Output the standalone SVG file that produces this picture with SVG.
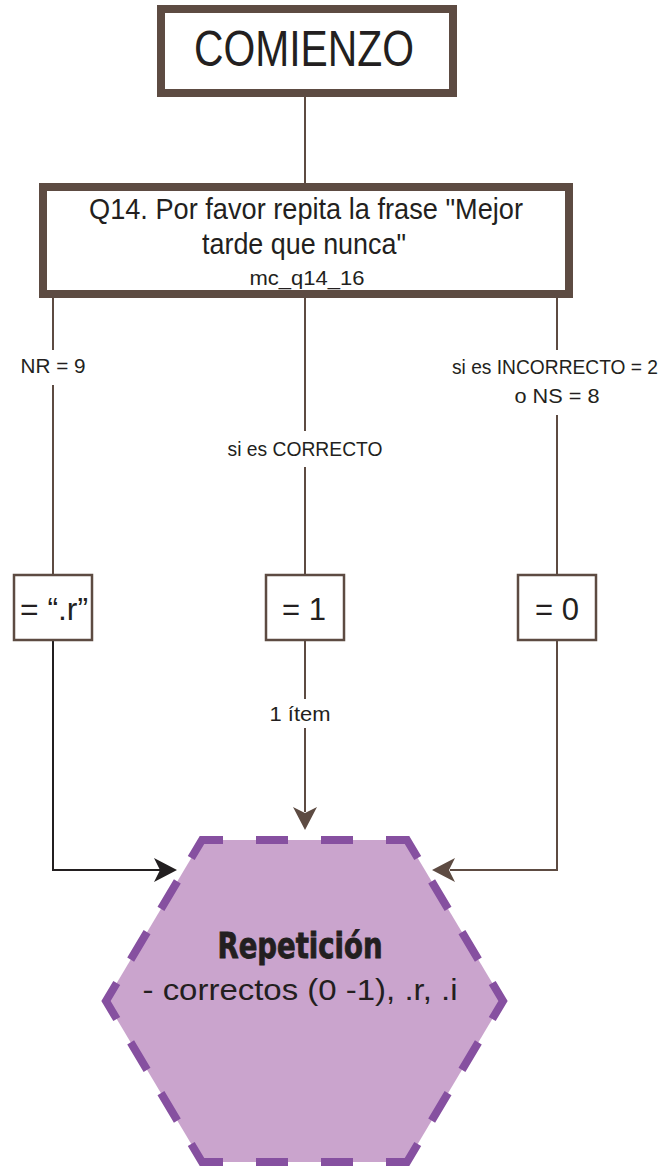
<svg xmlns="http://www.w3.org/2000/svg" width="666" height="1168" viewBox="0 0 666 1168">
<style>
.t{font-family:"Liberation Sans",Arial,sans-serif;fill:#231f20;text-anchor:middle}
.lb{font-size:21px}
.big{fill:#fff;stroke:#5d4b42;stroke-width:8}
.sm{fill:#fff;stroke:#5d4b42;stroke-width:2.5}
.c{fill:none;stroke:#5d4b42;stroke-width:2}
.ck{fill:none;stroke:#231f20;stroke-width:2}
</style>
<defs>
<path id="ah" d="M0,0 L-23,-12 L-17,0 L-23,12 Z"/>
</defs>
<g id="connectors">
<line class="c" x1="305" y1="97" x2="305" y2="183"/>
<line class="c" x1="53" y1="298" x2="53" y2="350"/>
<line class="c" x1="53" y1="385" x2="53" y2="574"/>
<line class="c" x1="305" y1="298" x2="305" y2="431"/>
<line class="c" x1="305" y1="467" x2="305" y2="574"/>
<line class="c" x1="557" y1="298" x2="557" y2="350"/>
<line class="c" x1="557" y1="415" x2="557" y2="574"/>
<polyline class="ck" points="53,641 53,870 160,870"/>
<use href="#ah" transform="translate(177,870)" fill="#231f20"/>
<line class="c" x1="305" y1="641" x2="305" y2="699"/>
<line class="c" x1="305" y1="728" x2="305" y2="812"/>
<use href="#ah" transform="translate(305,830) rotate(90)" fill="#5d4b42"/>
<polyline class="c" points="557,641 557,870 450,870"/>
<use href="#ah" transform="translate(432,870) rotate(180)" fill="#5d4b42"/>
<text class="t lb" x="53" y="373" textLength="65" lengthAdjust="spacingAndGlyphs">NR = 9</text>
<text class="t lb" x="305" y="456" textLength="155" lengthAdjust="spacingAndGlyphs">si es CORRECTO</text>
<text class="t" x="555" y="374" font-size="20" textLength="206" lengthAdjust="spacingAndGlyphs">si es INCORRECTO = 2</text>
<text class="t lb" x="557" y="403" textLength="85" lengthAdjust="spacingAndGlyphs">o NS = 8</text>
<text class="t lb" x="300" y="721" textLength="61" lengthAdjust="spacingAndGlyphs">1 ítem</text>
</g>
<g id="start">
<rect class="big" x="161" y="9" width="292" height="84"/>
<text class="t" x="304" y="66" font-size="50" textLength="220" lengthAdjust="spacingAndGlyphs">COMIENZO</text>
</g>
<g id="q14">
<rect class="big" x="43" y="187" width="526" height="107"/>
<text class="t" x="306" y="219" font-size="29" textLength="434" lengthAdjust="spacingAndGlyphs">Q14. Por favor repita la frase "Mejor</text>
<text class="t" x="304" y="254" font-size="29" textLength="204" lengthAdjust="spacingAndGlyphs">tarde que nunca"</text>
<text class="t" x="307" y="285" font-size="21" textLength="115" lengthAdjust="spacingAndGlyphs">mc_q14_16</text>
</g>
<g id="r">
<rect class="sm" x="14" y="575" width="78" height="65"/>
<text class="t" x="54" y="620" font-size="31" textLength="68" lengthAdjust="spacingAndGlyphs">= “.r”</text>
</g>
<g id="one">
<rect class="sm" x="266" y="575" width="78" height="65"/>
<text class="t" x="304" y="620" font-size="31">= 1</text>
</g>
<g id="zero">
<rect class="sm" x="518" y="575" width="78" height="65"/>
<text class="t" x="557" y="620" font-size="31">= 0</text>
</g>
<g id="result">
<path d="M304.5,840 L407,840 L503,1001 L407,1162 L202,1162 L106,1001 L202,840 Z" fill="#caa4cd" stroke="#8650a0" stroke-width="8" stroke-linejoin="miter" stroke-dasharray="0 16.5 32 33 42 27.15 32 27.15 32 27.15 42 27.15 32 27.15 32 27.15 42 33 32 33 32 33 42 27.15 32 27.15 32 27.15 42 27.15 32 27.15 32 27.15 42 33 32 16.5"/>
<text class="t" x="300" y="958" font-size="35" font-weight="bold" stroke="#231f20" stroke-width="0.8" style="font-family:'Liberation Sans Narrow','DejaVu Sans Condensed',sans-serif;font-stretch:condensed" textLength="165" lengthAdjust="spacingAndGlyphs">Repetición</text>
<text class="t" x="300" y="1000" font-size="30" textLength="315" lengthAdjust="spacingAndGlyphs">- correctos (0 -1), .r, .i</text>
</g>
</svg>
